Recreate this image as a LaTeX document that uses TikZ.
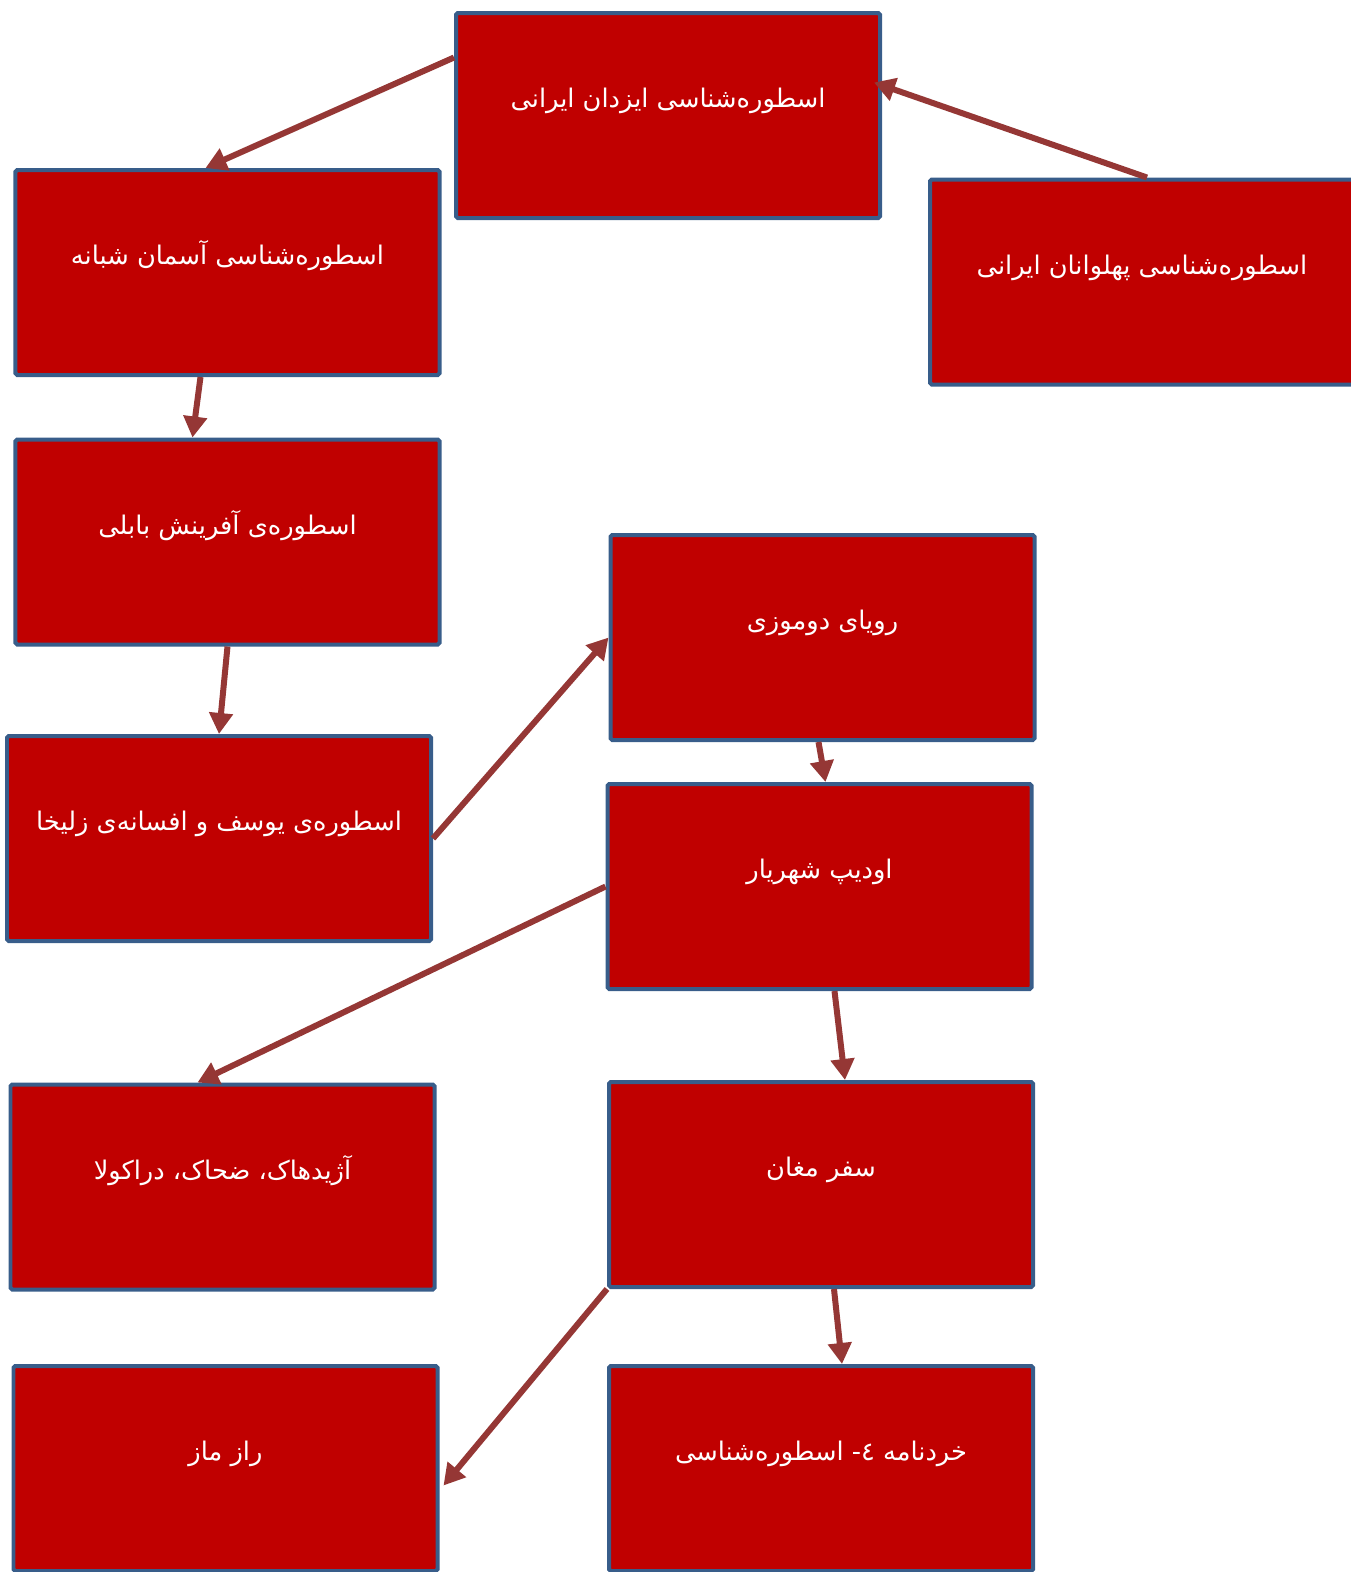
\documentclass[tikz,border=0pt]{standalone}
\usepackage{fontspec}
\usepackage{tikz}
\usetikzlibrary{positioning,arrows.meta,calc}
\TeXXeTstate=1
\newfontfamily\arabicfont[Script=Arabic]{DejaVu Sans}
\definecolor{boxred}{RGB}{192,0,0}
\definecolor{boxedge}{RGB}{56,93,138}
\definecolor{linkred}{RGB}{149,55,53}
\tikzset{
  mythe/.style={draw=boxedge, fill=boxred, line width=0.04cm, rounded corners=0.5pt,
    minimum width=4.24cm, minimum height=2.05cm, inner sep=0pt,
    text=white, font=\arabicfont\fontsize{7.3}{9}\selectfont,
    text height=0.3cm, text depth=0.46cm},
  lien/.style={draw=linkred, line width=0.06cm, -{Triangle[length=0.21cm,width=0.23cm]}}
}
\begin{document}
\begin{tikzpicture}
\useasboundingbox (0,0) rectangle (13.51,-15.72);
\clip (0,0) rectangle (13.51,-15.72);
% Boites
\node[mythe] (izadan) at (6.68,-1.155) {\beginR اسطوره‌شناسی ایزدان ایرانی\endR};
\node[mythe] (aseman) at (2.275,-2.725) {\beginR اسطوره‌شناسی آسمان شبانه\endR};
\node[mythe] (pahlavan) at (11.42,-2.82) {\beginR اسطوره‌شناسی پهلوانان ایرانی\endR};
\node[mythe] (babeli) at (2.275,-5.42) {\beginR اسطوره‌ی آفرینش بابلی\endR};
\node[mythe] (yousef) at (2.19,-8.385) {\beginR اسطوره‌ی یوسف و افسانه‌ی زلیخا\endR};
\node[mythe] (doumouzi) at (8.225,-6.375) {\beginR رویای دوموزی\endR};
\node[mythe] (oedipe) at (8.195,-8.865) {\beginR اودیپ شهریار\endR};
\node[mythe] (azhidahak) at (2.225,-11.87) {\beginR آژیدهاک، ضحاک، دراکولا\endR};
\node[mythe] (moghan) at (8.21,-11.845) {\beginR سفر مغان\endR};
\node[mythe] (raz) at (2.255,-14.685) {\beginR راز ماز\endR};
\node[mythe] (kherad) at (8.21,-14.685) {\beginR خردنامه ٤- اسطوره‌شناسی\endR};
% Liens
\draw[lien] ([yshift=0.58cm]izadan.west) -- ([xshift=-0.22cm]aseman.north);
\draw[lien] ([xshift=0.05cm]pahlavan.north) -- ([xshift=-0.08cm,yshift=0.33cm]izadan.east);
\draw[lien] ([xshift=-0.27cm]aseman.south) -- ([xshift=-0.35cm]babeli.north);
\draw[lien] (babeli.south) -- (yousef.north);
\draw[lien] (yousef.east) -- (doumouzi.west);
\draw[lien] ([xshift=-0.04cm]doumouzi.south) -- ([xshift=0.06cm]oedipe.north);
\draw[lien] (oedipe.west) -- ([xshift=-0.25cm]azhidahak.north);
\draw[lien] ([xshift=0.15cm]oedipe.south) -- ([xshift=0.24cm]moghan.north);
\draw[lien] (moghan.south west) -- ([xshift=0.04cm,yshift=-0.17cm]raz.east);
\draw[lien] ([xshift=0.13cm]moghan.south) -- ([xshift=0.21cm]kherad.north);
\end{tikzpicture}
\end{document}
